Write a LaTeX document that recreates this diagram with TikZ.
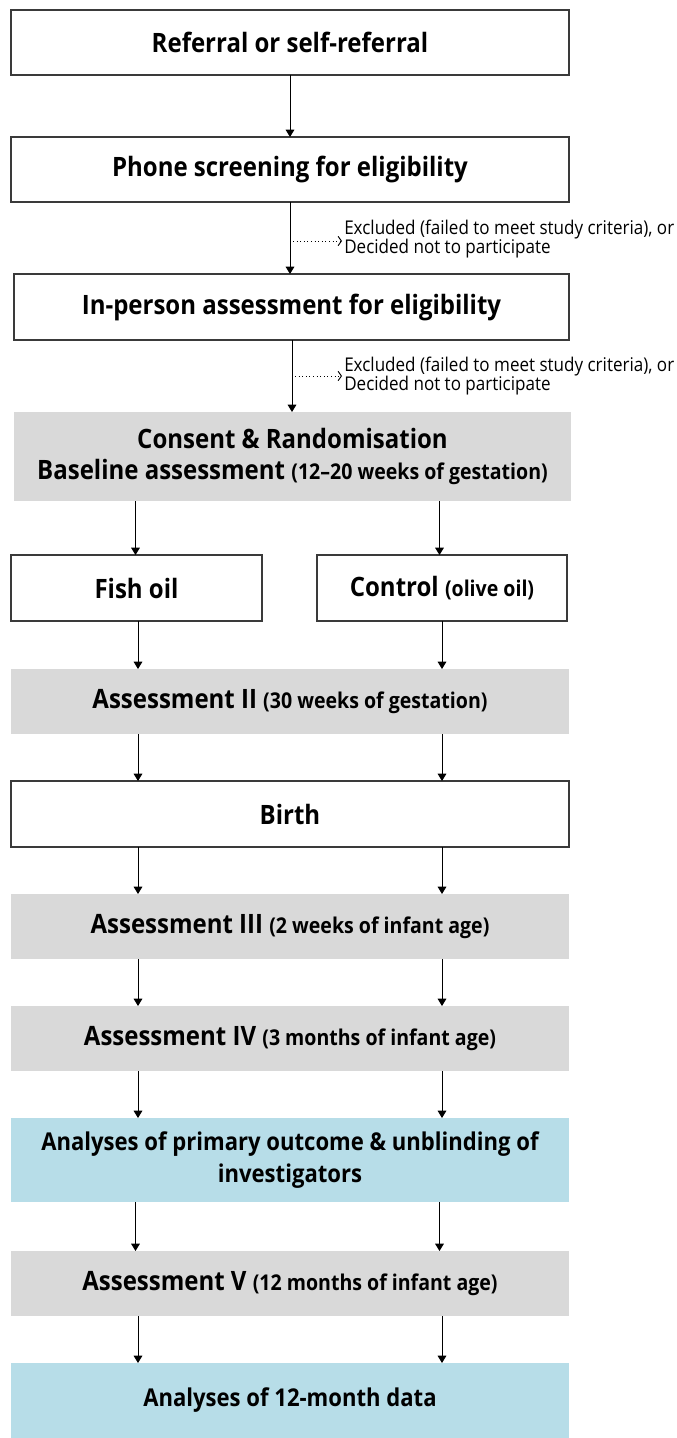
\documentclass[tikz,border=0pt]{standalone}
\usepackage{fontspec}
\setmainfont{Open Sans}[FakeStretch=0.9]
\usetikzlibrary{arrows.meta,calc}
\definecolor{boxgray}{HTML}{D9D9D9}
\definecolor{boxblue}{HTML}{B7DDE8}
\definecolor{edgecol}{HTML}{3A3A3A}
\newcommand\parfont{\fontsize{16.3}{18}\selectfont}
\begin{document}
\begin{tikzpicture}[x=0.75pt,y=-0.75pt,
  base/.style={inner sep=0pt, outer sep=0pt, align=center, font=\bfseries\fontsize{20}{23.5}\selectfont},
  whitebox/.style={base, draw=edgecol, line width=0.9pt, fill=white},
  graybox/.style={base, fill=boxgray},
  bluebox/.style={base, fill=boxblue, font=\bfseries\fontsize{18.4}{24}\selectfont},
  sz/.style 2 args={minimum width=#1*0.75pt, minimum height=#2*0.75pt},
  arr/.style={-{Triangle[width=6.5pt,length=5.5pt]}, line width=0.75pt, black},
  darr/.style={-{Straight Barb[length=2.5pt,width=7pt]}, dotted, line width=0.7pt},
  note/.style={font=\fontsize{14.2}{14.5}\selectfont, align=left, anchor=west, inner sep=0pt}
]
\useasboundingbox (0,0) rectangle (677,1438);

% boxes
\node[whitebox, sz={558}{65}] (b1) at (290,42.5) {Referral or self-referral};
\node[whitebox, sz={558}{65}] (b2) at (290,169.5) {Phone screening for eligibility};
\node[whitebox, sz={555}{66}] (b3) at (291.5,307) {In-person assessment for eligibility};
\node[graybox, sz={557}{89}] (cons) at (292.5,456.5) {Consent \& Randomisation\\Baseline assessment {\parfont(12--20 weeks of gestation)}};
\node[whitebox, sz={251}{66}] (fish) at (136.5,588) {Fish oil};
\node[whitebox, sz={250}{66}] (ctrl) at (442,588) {Control {\parfont(olive oil)}};
\node[graybox, sz={558}{65}] (a2) at (290,701.5) {Assessment II {\parfont(30 weeks of gestation)}};
\node[whitebox, sz={558}{66}] (birth) at (290,814) {Birth};
\node[graybox, sz={558}{65}] (a3) at (290,926.5) {Assessment III {\parfont(2 weeks of infant age)}};
\node[graybox, sz={558}{65}] (a4) at (290,1038.5) {Assessment IV {\parfont(3 months of infant age)}};
\node[bluebox, sz={558}{84}] (an1) at (290,1160) {Analyses of primary outcome \& unblinding of\\investigators};
\node[graybox, sz={558}{65}] (a5) at (290,1283.5) {Assessment V {\parfont(12 months of infant age)}};
\node[bluebox, sz={558}{75}] (an2) at (290,1400.5) {Analyses of 12-month data};

% notes
\node[note] (n1) at (344,239) {Excluded (failed to meet study criteria), or\\Decided not to participate};
\node[note] (n2) at (344,376) {Excluded (failed to meet study criteria), or\\Decided not to participate};

% columns
\coordinate (cm) at (290,0);
\coordinate (cm2) at (292,0);
\coordinate (cl) at (135.5,0);
\coordinate (cr) at (439.5,0);
\coordinate (cl2) at (138,0);
\coordinate (cr2) at (442,0);
\coordinate (d1) at (293,241);
\coordinate (d2) at (295,376);

% connectors
\draw[arr] (b1.south -| cm) -- (b2.north -| cm);
\draw[arr] (b2.south -| cm) -- (b3.north -| cm);
\draw[arr] (b3.south -| cm2) -- (cons.north -| cm2);
\draw[darr] (d1) -- ([xshift=-1.5pt]n1.west |- d1);
\draw[darr] (d2) -- ([xshift=-1.5pt]n2.west |- d2);
\draw[arr] (cons.south -| cl) -- (fish.north -| cl);
\draw[arr] (cons.south -| cr) -- (ctrl.north -| cr);
\draw[arr] (fish.south -| cl2) -- (a2.north -| cl2);
\draw[arr] (ctrl.south -| cr2) -- (a2.north -| cr2);
\draw[arr] (a2.south -| cl2) -- (birth.north -| cl2);
\draw[arr] (a2.south -| cr2) -- (birth.north -| cr2);
\draw[arr] (birth.south -| cl2) -- (a3.north -| cl2);
\draw[arr] (birth.south -| cr2) -- (a3.north -| cr2);
\draw[arr] (a3.south -| cl2) -- (a4.north -| cl2);
\draw[arr] (a3.south -| cr2) -- (a4.north -| cr2);
\draw[arr] (a4.south -| cl2) -- (an1.north -| cl2);
\draw[arr] (a4.south -| cr2) -- (an1.north -| cr2);
\draw[arr] (an1.south -| cl) -- (a5.north -| cl);
\draw[arr] (an1.south -| cr) -- (a5.north -| cr);
\draw[arr] (a5.south -| cl2) -- (an2.north -| cl2);
\draw[arr] (a5.south -| cr2) -- (an2.north -| cr2);
\end{tikzpicture}
\end{document}
